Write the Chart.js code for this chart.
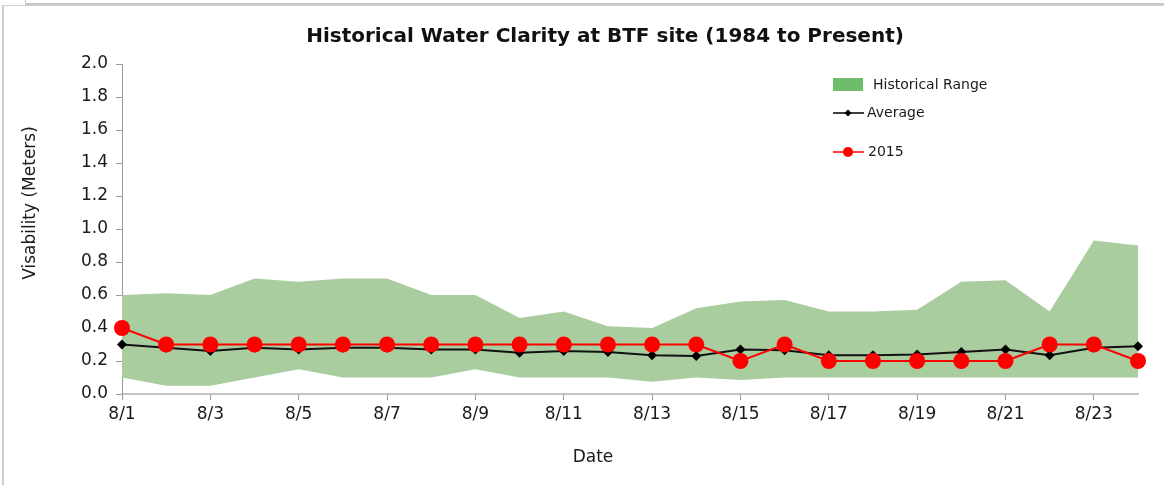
<!DOCTYPE html>
<html lang="en">
<head>
    <meta charset="UTF-8">
    <title>Historical Water Clarity at BTF site</title>
    <script src="https://cdn.jsdelivr.net/npm/chart.js"></script>
    <style>
        html, body {
            margin: 0;
            padding: 0;
            background: #fff;
        }
        body {
            width: 1164px;
            height: 485px;
            position: relative;
            overflow: hidden;
        }
        .frame-top {
            position: absolute;
            left: 25px;
            top: -10px;
            right: -5px;
            height: 13px;
            border-left: 1px solid #c8c8c8;
            border-bottom: 2px solid #c8c8c8;
        }
        .frame-main {
            position: absolute;
            left: 2px;
            top: 5px;
            right: -5px;
            bottom: -5px;
            border-left: 2px solid #cfcfcf;
            border-top: 1px solid #cfcfcf;
        }
        #wrap {
            position: absolute;
            left: 0;
            top: 0;
            width: 1164px;
            height: 485px;
        }
    </style>
</head>
<body>
    <div class="frame-top"></div>
    <div class="frame-main"></div>
    <div id="wrap"><canvas id="clarityChart" width="1164" height="485"></canvas></div>

    <script>
        // Data
        const dates = ['8/1', '8/2', '8/3', '8/4', '8/5', '8/6', '8/7', '8/8', '8/9', '8/10', '8/11', '8/12',
                       '8/13', '8/14', '8/15', '8/16', '8/17', '8/18', '8/19', '8/20', '8/21', '8/22', '8/23', '8/24'];
        const rangeHigh = [0.60, 0.61, 0.60, 0.70, 0.68, 0.70, 0.70, 0.60, 0.60, 0.46, 0.50, 0.41,
                           0.40, 0.52, 0.56, 0.57, 0.50, 0.50, 0.51, 0.68, 0.69, 0.50, 0.93, 0.90];
        const rangeLow = [0.10, 0.05, 0.05, 0.10, 0.15, 0.10, 0.10, 0.10, 0.15, 0.10, 0.10, 0.10,
                          0.075, 0.10, 0.085, 0.10, 0.10, 0.10, 0.10, 0.10, 0.10, 0.10, 0.10, 0.10];
        const average = [0.30, 0.28, 0.26, 0.28, 0.27, 0.28, 0.28, 0.27, 0.27, 0.25, 0.26, 0.255,
                         0.235, 0.23, 0.27, 0.265, 0.235, 0.235, 0.24, 0.255, 0.27, 0.235, 0.28, 0.29];
        const year2015 = [0.4, 0.3, 0.3, 0.3, 0.3, 0.3, 0.3, 0.3, 0.3, 0.3, 0.3, 0.3,
                          0.3, 0.3, 0.2, 0.3, 0.2, 0.2, 0.2, 0.2, 0.2, 0.3, 0.3, 0.2];

        const textFont = "'DejaVu Sans', sans-serif";

        // Title, axis titles and legend drawn on top of the chart
        const decor = {
            id: 'decor',
            afterDraw(chart) {
                const c = chart.ctx;
                c.save();
                c.fillStyle = '#111';
                c.font = 'bold 20px ' + textFont;
                c.textAlign = 'center';
                c.textBaseline = 'middle';
                c.fillText('Historical Water Clarity at BTF site (1984 to Present)', 605, 37);

                // axis titles
                c.font = '17px ' + textFont;
                c.fillStyle = '#1a1a1a';
                c.fillText('Date', 593, 458);
                c.save();
                c.translate(31, 203);
                c.rotate(-Math.PI / 2);
                c.fillText('Visability (Meters)', 0, 0);
                c.restore();

                c.textAlign = 'left';
                c.font = '14px ' + textFont;
                // Historical Range
                c.fillStyle = '#6cbf68';
                c.fillRect(833, 78, 30, 13);
                c.fillStyle = '#1a1a1a';
                c.fillText('Historical Range', 873, 85);
                // Average
                c.strokeStyle = '#000';
                c.lineWidth = 1.5;
                c.beginPath(); c.moveTo(833, 113); c.lineTo(864, 113); c.stroke();
                c.fillStyle = '#000';
                c.beginPath();
                c.moveTo(848, 109.5); c.lineTo(851.5, 113); c.lineTo(848, 116.5); c.lineTo(844.5, 113);
                c.closePath(); c.fill();
                c.fillStyle = '#1a1a1a';
                c.fillText('Average', 867, 113);
                // 2015
                c.strokeStyle = '#ff0000';
                c.beginPath(); c.moveTo(833, 152); c.lineTo(864, 152); c.stroke();
                c.fillStyle = '#ff0000';
                c.beginPath(); c.arc(848, 152, 5, 0, Math.PI * 2); c.fill();
                c.fillStyle = '#1a1a1a';
                c.fillText('2015', 868, 152);
                c.restore();
            }
        };

        const ctx = document.getElementById('clarityChart');
        new Chart(ctx, {
            type: 'line',
            data: {
                labels: dates,
                datasets: [
                    {
                        label: 'Low',
                        data: rangeLow,
                        borderWidth: 0,
                        borderColor: 'transparent',
                        pointRadius: 0,
                        fill: false,
                        order: 3
                    },
                    {
                        label: 'Historical Range',
                        data: rangeHigh,
                        borderWidth: 0,
                        borderColor: 'transparent',
                        backgroundColor: '#a9cd9f',
                        pointRadius: 0,
                        fill: '-1',
                        order: 3
                    },
                    {
                        label: 'Average',
                        data: average,
                        borderColor: '#111',
                        backgroundColor: '#000',
                        borderWidth: 2,
                        pointStyle: 'rectRot',
                        pointRadius: 5,
                        pointBorderWidth: 0,
                        order: 2
                    },
                    {
                        label: '2015',
                        data: year2015,
                        borderColor: '#ff0000',
                        backgroundColor: '#ff0000',
                        borderWidth: 2,
                        pointRadius: 8,
                        pointBorderWidth: 0,
                        order: 1
                    }
                ]
            },
            options: {
                responsive: false,
                animation: false,
                layout: {
                    padding: { left: 0, right: 26, top: 64, bottom: 11 }
                },
                plugins: {
                    legend: { display: false },
                    tooltip: { enabled: false },
                    title: { display: false }
                },
                scales: {
                    x: {
                        offset: false,
                        afterFit(scale) { scale.height = 80; },
                        border: { color: '#c4c4c4', width: 2 },
                        grid: {
                            drawOnChartArea: false,
                            tickLength: 6,
                            tickColor: c => (c.index % 2 === 0 ? '#9a9a9a' : 'transparent')
                        },
                        ticks: {
                            autoSkip: false,
                            maxRotation: 0,
                            padding: 4,
                            color: '#1a1a1a',
                            font: { family: textFont, size: 17 },
                            callback(value, index) { return index % 2 === 0 ? dates[index] : ''; }
                        }
                    },
                    y: {
                        min: 0,
                        max: 2,
                        afterFit(scale) { scale.width = 122; },
                        border: { color: '#9a9a9a', width: 1 },
                        grid: {
                            drawOnChartArea: false,
                            tickLength: 6,
                            tickColor: '#9a9a9a'
                        },
                        ticks: {
                            stepSize: 0.2,
                            padding: 8,
                            color: '#1a1a1a',
                            font: { family: textFont, size: 17 },
                            callback: v => v.toFixed(1)
                        }
                    }
                }
            },
            plugins: [decor]
        });
    </script>
</body>
</html>
